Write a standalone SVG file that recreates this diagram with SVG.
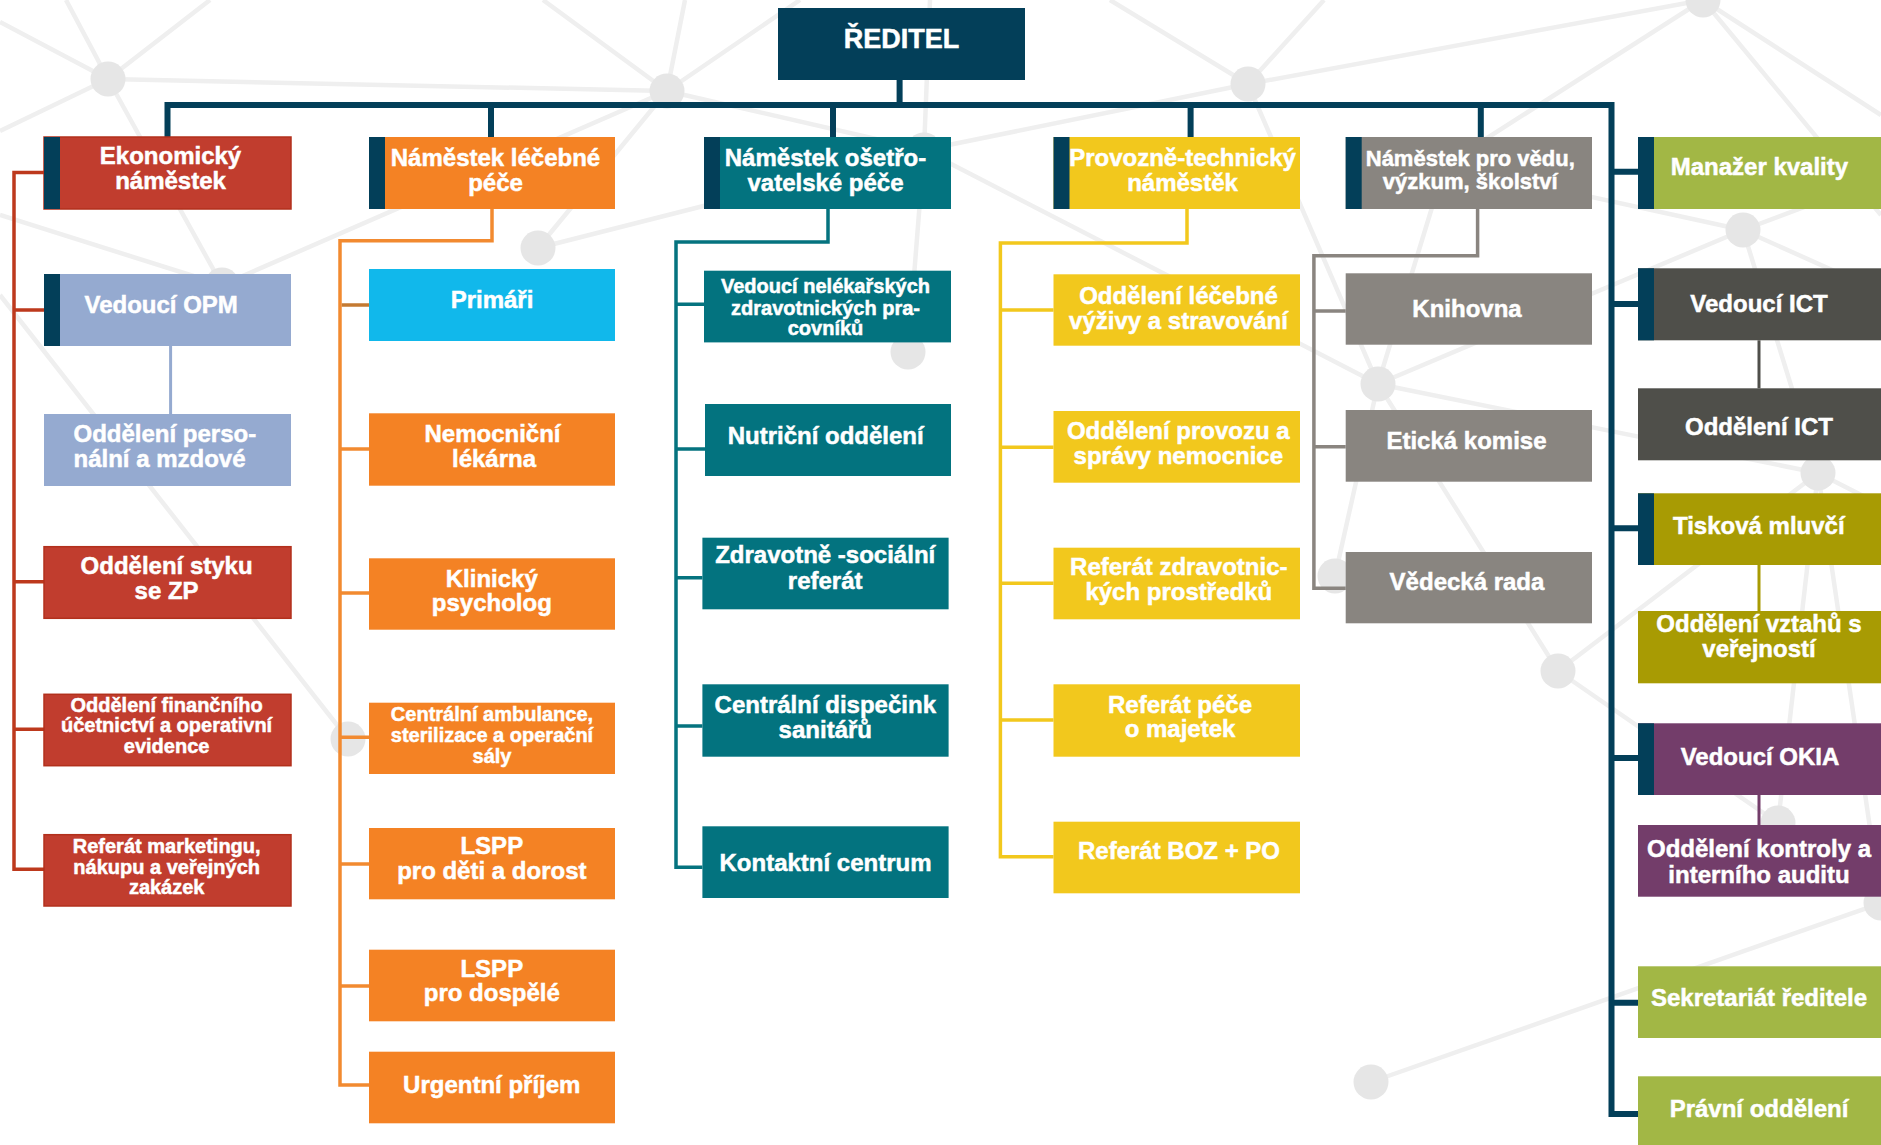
<svg xmlns="http://www.w3.org/2000/svg" width="1881" height="1145" viewBox="0 0 1881 1145">
<style>
.bg{stroke:#efefef;stroke-width:4.5;fill:none}
.dot{fill:#e6e6e6}
.t{font-family:"Liberation Sans",Arial,Helvetica,sans-serif;font-weight:bold;fill:#fff;stroke:#fff;stroke-width:0.5;text-anchor:middle;font-size:24px}
.l{text-anchor:start}
.s20{font-size:20px}
.s22{font-size:22px}
.s27{font-size:27px}
.navy{fill:#033f59}
.stripe{fill:#033f59}
.red{fill:#c13d2e;stroke:#b2301c;stroke-width:1.5}
.org{fill:#f48224}
.lbl{fill:#95aad0}
.cyan{fill:#11b8eb}
.teal{fill:#03737f}
.yel{fill:#f2c81d}
.gry{fill:#898580}
.grn{fill:#a2b745}
.dkg{fill:#4f4f4a}
.olv{fill:#a89b03}
.pur{fill:#733d6a}
.c{fill:none;stroke-linejoin:miter;stroke-linecap:butt}
.cn{stroke:#033f59;stroke-width:6}
.cr{stroke:#bd391d;stroke-width:3.5}
.co{stroke:#f28a30;stroke-width:3.5}
.cb{stroke:#c47a32;stroke-width:3.5}
.ct{stroke:#05737f;stroke-width:3.5}
.cy{stroke:#f2c81d;stroke-width:3.5}
.cg{stroke:#8a8580;stroke-width:3.5}
.cl{stroke:#95aad0;stroke-width:3}
.cd{stroke:#4f4f4a;stroke-width:3}
.cv{stroke:#a89b03;stroke-width:3}
.cp{stroke:#733d6a;stroke-width:3}
</style>
<rect x="0" y="0" width="1881" height="1145" fill="#ffffff"/>
<g id="background">
<path class="bg" d="M0,22L108,79M66,0L108,79M210,0L108,79M0,131L108,79M108,79L667,91M108,79L222,285M0,215L222,285M222,285L667,91M0,295L348,739M667,91L543,0M667,91L685,0M667,91L800,0M667,91L538,248M667,91L924,150M538,248L924,150M924,150L930,0M924,150L908,352M924,150L1248,84M924,150L1378,384M1248,84L1110,0M1248,84L1324,0M1248,84L1703,0M1248,84L1378,384M1703,0L1445,165M1445,165L1743,230M1445,165L1378,384M1378,384L1743,230M1378,384L1818,473M1378,384L1335,576M1558,671L1378,384M1558,671L1818,473M1558,671L1778,823M1818,473L1778,823M1818,473L1881,903M1818,473L1881,505M1743,230L1818,473M1743,230L1881,292M1743,230L1881,178M1703,0L1881,115M1703,0L1881,215M1371,1082L1881,903"/>
<g class="dot">
<circle cx="108" cy="79" r="17.5"/><circle cx="667" cy="91" r="17.5"/><circle cx="1248" cy="84" r="17.5"/><circle cx="538" cy="248" r="17.5"/><circle cx="908" cy="352" r="17.5"/><circle cx="1378" cy="384" r="17.5"/><circle cx="348" cy="739" r="17.5"/><circle cx="1558" cy="671" r="17.5"/><circle cx="1371" cy="1082" r="17.5"/><circle cx="1743" cy="230" r="17.5"/><circle cx="1818" cy="473" r="17.5"/><circle cx="1703" cy="0" r="17.5"/><circle cx="924" cy="150" r="17.5"/><circle cx="1335" cy="576" r="17.5"/><circle cx="1778" cy="823" r="17.5"/><circle cx="1881" cy="903" r="17.5"/><circle cx="222" cy="285" r="17.5"/><circle cx="1445" cy="165" r="17.5"/>
</g>
</g>
<g id="connectors">
<path class="c cn" d="M899.6,80V105M167.5,137V105H1611.5V1114H1638M491,105V137M833,105V137M1190.6,105V137M1480.8,105V137M1611.5,171.7H1638M1611.5,304H1638M1611.5,528.3H1638M1611.5,758H1638M1611.5,1002.7H1638"/>
<path class="c cr" d="M44,172.5H14V869.3H44M14,310H44M14,581.7H44M14,729.3H44"/>
<path class="c cl" d="M170.6,346V414"/>
<path class="c co" d="M492,209V240.7H340V1085H369M340,449H369M340,593H369M340,737.3H369M340,864H369M340,986H369"/>
<path class="c cb" d="M341.7,305H369"/>
<path class="c ct" d="M828,209V242H676V867.3H702.4M676,304.3H704M676,449H705M676,577.7H702.4M676,726H702.4"/>
<path class="c cy" d="M1187,209V243H1000.4V856.7H1053.5M1000.4,310H1053.5M1000.4,447.3H1053.5M1000.4,583.3H1053.5M1000.4,720H1053.5"/>
<path class="c cg" d="M1477.6,209V255.7H1313.9V588.3H1345.7M1313.9,311H1345.7M1313.9,446.7H1345.7"/>
<path class="c cd" d="M1759,340.3V388.3"/>
<path class="c cv" d="M1759,565V611"/>
<path class="c cp" d="M1759,795V825"/>
</g>
<g id="n-reditel"><rect class="navy" x="778" y="8" width="247" height="72"/><text class="t s27" x="901.5" y="48">ŘEDITEL</text></g>
<g id="n-ekonomicky"><rect class="red" x="44" y="137" width="247" height="72"/><rect class="stripe" x="44" y="137" width="16" height="72"/><text class="t"><tspan x="170.5" y="164">Ekonomický</tspan><tspan x="170.5" y="189">náměstek</tspan></text></g>
<g id="n-lecebna"><rect class="org" x="369" y="137" width="246" height="72"/><rect class="stripe" x="369" y="137" width="16" height="72"/><text class="t"><tspan x="495.5" y="165.5">Náměstek léčebné</tspan><tspan x="495.5" y="190.5">péče</tspan></text></g>
<g id="n-osetrovatelska"><rect class="teal" x="704" y="137" width="247" height="72"/><rect class="stripe" x="704" y="137" width="16" height="72"/><text class="t"><tspan x="825.5" y="165.5">Náměstek ošetřo-</tspan><tspan x="825.5" y="190.5">vatelské péče</tspan></text></g>
<g id="n-provozne"><rect class="yel" x="1053.5" y="137" width="246.5" height="72"/><rect class="stripe" x="1053.5" y="137" width="16" height="72"/><text class="t"><tspan x="1182.5" y="165.5">Provozně-technický</tspan><tspan x="1182.5" y="191">náměstěk</tspan></text></g>
<g id="n-veda"><rect class="gry" x="1345.7" y="137" width="246.3" height="72"/><rect class="stripe" x="1345.7" y="137" width="16" height="72"/><text class="t s22"><tspan x="1470.3" y="165.5">Náměstek pro vědu,</tspan><tspan x="1470.3" y="189">výzkum, školství</tspan></text></g>
<g id="n-kvalita"><rect class="grn" x="1638" y="137" width="250" height="72"/><rect class="stripe" x="1638" y="137" width="16" height="72"/><text class="t" x="1759.4" y="175">Manažer kvality</text></g>
<g id="n-opm"><rect class="lbl" x="44" y="274" width="247" height="72"/><rect class="stripe" x="44" y="274" width="16" height="72"/><text class="t l" x="84.5" y="313">Vedoucí OPM</text></g>
<g id="n-primari"><rect class="cyan" x="369" y="269" width="246" height="72"/><text class="t" x="492" y="308">Primáři</text></g>
<g id="n-nelekarsti"><rect class="teal" x="704" y="270.7" width="247" height="71.7"/><text class="t s20"><tspan x="825.5" y="293.3">Vedoucí nelékařských</tspan><tspan x="825.5" y="314.5">zdravotnických pra-</tspan><tspan x="825.5" y="335">covníků</tspan></text></g>
<g id="n-vyziva"><rect class="yel" x="1053.5" y="274.3" width="246.5" height="71.4"/><text class="t"><tspan x="1178.5" y="303.5">Oddělení léčebné</tspan><tspan x="1178.5" y="328.5">výživy a stravování</tspan></text></g>
<g id="n-knihovna"><rect class="gry" x="1345.7" y="273.3" width="246.3" height="71.4"/><text class="t" x="1467" y="316.5">Knihovna</text></g>
<g id="n-vedouci-ict"><rect class="dkg" x="1638" y="268.3" width="250" height="72"/><rect class="stripe" x="1638" y="268.3" width="16" height="72"/><text class="t" x="1759" y="311.5">Vedoucí ICT</text></g>
<g id="n-personalni"><rect class="lbl" x="44" y="414" width="247" height="72"/><text class="t l"><tspan x="73.5" y="442.3">Oddělení perso-</tspan><tspan x="73.5" y="466.7">nální a mzdové</tspan></text></g>
<g id="n-lekarna"><rect class="org" x="369" y="413.3" width="246" height="72.4"/><text class="t"><tspan x="492.5" y="442.3">Nemocniční</tspan><tspan x="494" y="467.3">lékárna</tspan></text></g>
<g id="n-nutricni"><rect class="teal" x="705" y="404" width="246" height="72"/><text class="t" x="825.7" y="444">Nutriční oddělení</text></g>
<g id="n-provozu"><rect class="yel" x="1053.5" y="411" width="246.5" height="71.7"/><text class="t"><tspan x="1178.3" y="439">Oddělení provozu a</tspan><tspan x="1178.3" y="463.5">správy nemocnice</tspan></text></g>
<g id="n-eticka"><rect class="gry" x="1345.7" y="410" width="246.3" height="71.7"/><text class="t" x="1466.5" y="449.3">Etická komise</text></g>
<g id="n-oddeleni-ict"><rect class="dkg" x="1638" y="388.3" width="250" height="72"/><text class="t" x="1759" y="435">Oddělení ICT</text></g>
<g id="n-styku"><rect class="red" x="44" y="546.7" width="247" height="71.6"/><text class="t"><tspan x="166.6" y="574">Oddělení styku</tspan><tspan x="166.6" y="599.3">se ZP</tspan></text></g>
<g id="n-klinicky"><rect class="org" x="369" y="558.3" width="246" height="71.4"/><text class="t"><tspan x="491.8" y="586.5">Klinický</tspan><tspan x="491.8" y="611">psycholog</tspan></text></g>
<g id="n-zdravsoc"><rect class="teal" x="702.4" y="537.7" width="246.2" height="71.6"/><text class="t"><tspan x="825.2" y="563.3">Zdravotně -sociální</tspan><tspan x="825.2" y="589.3">referát</tspan></text></g>
<g id="n-refzdrav"><rect class="yel" x="1053.5" y="547.7" width="246.5" height="71.6"/><text class="t"><tspan x="1178.8" y="575">Referát zdravotnic-</tspan><tspan x="1178.8" y="600">kých prostředků</tspan></text></g>
<g id="n-tiskova"><rect class="olv" x="1638" y="493.3" width="250" height="71.7"/><rect class="stripe" x="1638" y="493.3" width="16" height="71.7"/><text class="t" x="1758.8" y="534">Tisková mluvčí</text></g>
<g id="n-vedecka"><rect class="gry" x="1345.7" y="552" width="246.3" height="71.3"/><text class="t" x="1467" y="590">Vědecká rada</text></g>
<g id="n-vztahy"><rect class="olv" x="1638" y="611" width="250" height="72.3"/><text class="t"><tspan x="1759" y="631.7">Oddělení vztahů s</tspan><tspan x="1759" y="657.3">veřejností</tspan></text></g>
<g id="n-financni"><rect class="red" x="44" y="694.3" width="247" height="71.4"/><text class="t s20"><tspan x="166.6" y="711.7">Oddělení finančního</tspan><tspan x="166.6" y="732.3">účetnictví a operativní</tspan><tspan x="166.6" y="752.7">evidence</tspan></text></g>
<g id="n-ambulance"><rect class="org" x="369" y="702.7" width="246" height="71.3"/><text class="t s20"><tspan x="492" y="720.7">Centrální ambulance,</tspan><tspan x="492" y="741.7">sterilizace a operační</tspan><tspan x="492" y="762.5">sály</tspan></text></g>
<g id="n-dispecink"><rect class="teal" x="702.4" y="684.3" width="246.2" height="72.4"/><text class="t"><tspan x="825.3" y="713.3">Centrální dispečink</tspan><tspan x="825.3" y="738.3">sanitářů</tspan></text></g>
<g id="n-majetek"><rect class="yel" x="1053.5" y="684.3" width="246.5" height="72.4"/><text class="t"><tspan x="1180" y="712.7">Referát péče</tspan><tspan x="1180" y="737.3">o majetek</tspan></text></g>
<g id="n-okia"><rect class="pur" x="1638" y="723.3" width="250" height="71.7"/><rect class="stripe" x="1638" y="723.3" width="16" height="71.7"/><text class="t" x="1760" y="765">Vedoucí OKIA</text></g>
<g id="n-marketing"><rect class="red" x="44" y="834.7" width="247" height="71.3"/><text class="t s20"><tspan x="166.7" y="853.3">Referát marketingu,</tspan><tspan x="166.7" y="874.3">nákupu a veřejných</tspan><tspan x="166.7" y="894.3">zakázek</tspan></text></g>
<g id="n-lspp-deti"><rect class="org" x="369" y="828" width="246" height="71.3"/><text class="t"><tspan x="491.8" y="854.3">LSPP</tspan><tspan x="491.8" y="879">pro děti a dorost</tspan></text></g>
<g id="n-kontakt"><rect class="teal" x="702.4" y="826.3" width="246.2" height="71.7"/><text class="t" x="825.5" y="870.7">Kontaktní centrum</text></g>
<g id="n-boz"><rect class="yel" x="1053.5" y="821.7" width="246.5" height="71.6"/><text class="t" x="1179" y="859.3">Referát BOZ + PO</text></g>
<g id="n-kontrola"><rect class="pur" x="1638" y="825" width="250" height="71.7"/><text class="t"><tspan x="1759" y="856.7">Oddělení kontroly a</tspan><tspan x="1759" y="882.7">interního auditu</tspan></text></g>
<g id="n-lspp-dospele"><rect class="org" x="369" y="949.7" width="246" height="71.6"/><text class="t"><tspan x="491.8" y="976.7">LSPP</tspan><tspan x="491.8" y="1001">pro dospělé</tspan></text></g>
<g id="n-sekretariat"><rect class="grn" x="1638" y="966.3" width="250" height="71.7"/><text class="t" x="1759" y="1006">Sekretariát ředitele</text></g>
<g id="n-urgentni"><rect class="org" x="369" y="1051.7" width="246" height="71.6"/><text class="t" x="491.8" y="1093.3">Urgentní příjem</text></g>
<g id="n-pravni"><rect class="grn" x="1638" y="1076.3" width="250" height="72"/><text class="t" x="1759" y="1117.3">Právní oddělení</text></g>
</svg>
